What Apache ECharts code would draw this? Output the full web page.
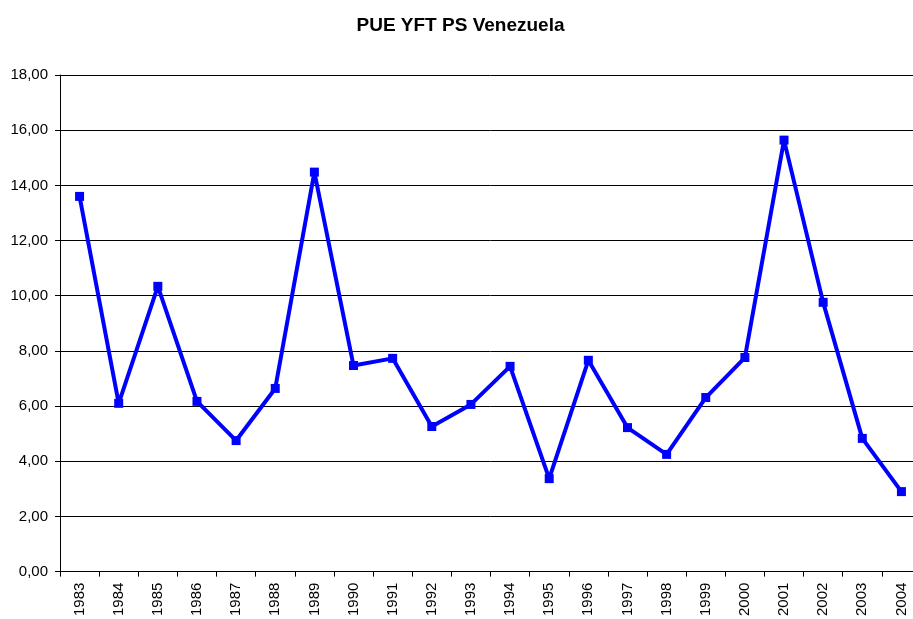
<!DOCTYPE html>
<html>
<head>
<meta charset="utf-8">
<script src="https://cdn.jsdelivr.net/npm/echarts@6/dist/echarts.min.js"></script>
<style>
  html, body { margin: 0; padding: 0; background: #fff; overflow: hidden; }
  #chart { width: 921px; height: 619px; }
</style>
</head>
<body>
<div id="chart"></div>
<script>
var years = ['1983', '1984', '1985', '1986', '1987', '1988', '1989', '1990', '1991', '1992', '1993',
             '1994', '1995', '1996', '1997', '1998', '1999', '2000', '2001', '2002', '2003', '2004'];
var pue = [13.6, 6.1, 10.34, 6.17, 4.75, 6.64, 14.48, 7.47, 7.73, 5.26, 6.06,
           7.44, 3.37, 7.66, 5.22, 4.25, 6.31, 7.76, 15.64, 9.76, 4.83, 2.9];

// the original chart runs past the right edge of the picture, so the div is a bit wider than the window
var myChart = echarts.init(document.getElementById('chart'));
var option = {
    backgroundColor: '#fff',
    animation: false,
    title: {
        text: 'PUE YFT PS Venezuela',
        left: 'center',
        top: 11,
        textStyle: { fontFamily: 'Liberation Sans', fontSize: 19, fontWeight: 'bold', color: '#000' }
    },
    grid: {
        left: 60,
        top: 75,
        right: 0,
        bottom: 44,
        containLabel: false
    },
    xAxis: {
        type: 'category',
        boundaryGap: true,
        data: years,
        axisLine: { lineStyle: { color: '#000', width: 1 } },
        axisTick: { show: true, length: 5, lineStyle: { color: '#000' } },
        axisLabel: {
            rotate: 90,
            interval: 0,
            margin: 11,
            fontFamily: 'Liberation Sans',
            fontSize: 15,
            color: '#000'
        }
    },
    yAxis: {
        type: 'value',
        min: 0,
        max: 18,
        interval: 2,
        axisLine: { show: true, lineStyle: { color: '#000', width: 1 } },
        axisTick: { show: true, length: 5, inside: false, lineStyle: { color: '#000' } },
        splitLine: { show: true, lineStyle: { color: '#000', width: 1 } },
        axisLabel: {
            fontFamily: 'Liberation Sans',
            fontSize: 15,
            color: '#000',
            margin: 12,
            formatter: function (v) { return v.toFixed(2).replace('.', ','); }
        }
    },
    series: [{
        type: 'line',
        data: pue,
        symbol: 'rect',
        symbolSize: 9,
        lineStyle: { color: '#0000ff', width: 4 },
        itemStyle: { color: '#0000ff' }
    }]
};
myChart.setOption(option, true);
</script>
</body>
</html>
